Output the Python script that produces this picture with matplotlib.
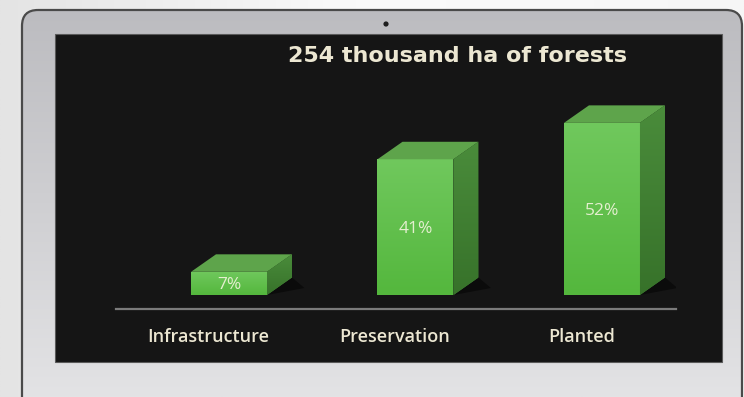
import numpy as np
import matplotlib
matplotlib.use("Agg")
import matplotlib.pyplot as plt
from matplotlib.patches import FancyBboxPatch, Rectangle, Polygon, Circle
from matplotlib.colors import LinearSegmentedColormap

# data
categories = ["Infrastructure", "Preservation", "Planted"]
shares = [7, 41, 52]
title = "254 thousand ha of forests"

txt_col = "#ece7d2"
plt.rcParams['font.family'] = ['Open Sans', 'DejaVu Sans']

fig = plt.figure(figsize=[7.44, 3.97], dpi=100)
fig.patch.set_facecolor("#f3f3f3")

# laptop frame, drawn in pixel coords
bg = fig.add_axes([0, 0, 1, 1])
bg.set_xlim(0, 744)
bg.set_ylim(397, 0)
bg.axis("off")

side = np.linspace(0, 1, 256).reshape(1, -1)
bg.imshow(np.tile(side, (2, 1)), extent=[0, 744, 397, 0], aspect="auto",
          cmap=LinearSegmentedColormap.from_list("o", ["#e4e4e4", "#fbfbfb", "#f6f6f6"]), zorder=0)

bezel = FancyBboxPatch((22, 10), 720, 420, boxstyle="round,pad=0,rounding_size=16",
                       facecolor="none", edgecolor="#4a4a4a", lw=1.6, zorder=2)
bg.add_patch(bezel)
vert = np.linspace(0, 1, 256).reshape(-1, 1)
im = bg.imshow(np.tile(vert, (1, 2)), extent=[22, 742, 397, 10], aspect="auto",
               cmap=LinearSegmentedColormap.from_list("b", ["#bcbcc0", "#cfcfd2", "#e3e3e5"]), zorder=1)
im.set_clip_path(bezel)
bg.add_patch(Rectangle((55, 34), 667, 328, facecolor="#151515", edgecolor="#5a5a5a", lw=0.8, zorder=3))
bg.add_patch(Circle((386, 24), 2.6, facecolor="#1e1e1e", edgecolor="none", zorder=3))
bg.text(458, 56, title, color=txt_col, fontsize=16, fontweight="bold",
        family="DejaVu Sans", ha="center", va="center", zorder=4)

# chart
ax = fig.add_axes([116 / 744, (397 - 309) / 397, 560 / 744, 212.6 / 397])
ax.patch.set_alpha(0)
x = np.arange(len(categories))
w = 0.4075
dx, dy = 0.134, 5.29

front_cm = LinearSegmentedColormap.from_list("f", ["#54b73d", "#70c85d"])
side_cm = LinearSegmentedColormap.from_list("s", ["#37722a", "#4a8c3b"])
bars = ax.bar(x, shares, width=w, color="#62c04d", zorder=3)
for i, (xi, v, b) in enumerate(zip(x, shares, bars)):
    l, r = xi - w / 2, xi + w / 2
    g = ax.imshow(vert[::-1], extent=[l, r, 0, v], aspect="auto", cmap=front_cm, zorder=4)
    g.set_clip_path(b)
    # soft shadow at the base
    ax.add_patch(Polygon([(r, 0), (r + dx * 1.5, dy * 0.4), (r + dx, dy)],
                         closed=True, facecolor="#0b0b0b", edgecolor="none", zorder=2))
    top = Polygon([(l, v), (r, v), (r + dx, v + dy), (l + dx, v + dy)], closed=True,
                  facecolor="#5ea44b", edgecolor="none", zorder=4)
    ax.add_patch(top)
    sd = Polygon([(r, 0), (r + dx, dy), (r + dx, v + dy), (r, v)], closed=True,
                 facecolor="#418234", edgecolor="none", zorder=4)
    ax.add_patch(sd)
    sg = ax.imshow(vert[::-1], extent=[r, r + dx, 0, v + dy], aspect="auto", cmap=side_cm, zorder=4)
    sg.set_clip_path(sd)
    ax.text(xi, v / 2 - 0.5, f"{v}%", color="#e4efcf", fontsize=12.5,
            ha="center", va="center", zorder=5)
    ax.text(xi - 0.11, -12.8, categories[i], color=txt_col, fontsize=13,
            fontweight="semibold", ha="center", va="center", clip_on=False)

ax.set_xlim(-0.606, 2.397)
ax.set_ylim(-4.23, 60)
ax.set_xticks([])
ax.set_yticks([])
for s in ["top", "left", "right"]:
    ax.spines[s].set_visible(False)
ax.spines["bottom"].set_color("#7b7b7b")
ax.spines["bottom"].set_linewidth(1.6)

fig.savefig("out.png", dpi=100, facecolor=fig.get_facecolor())
